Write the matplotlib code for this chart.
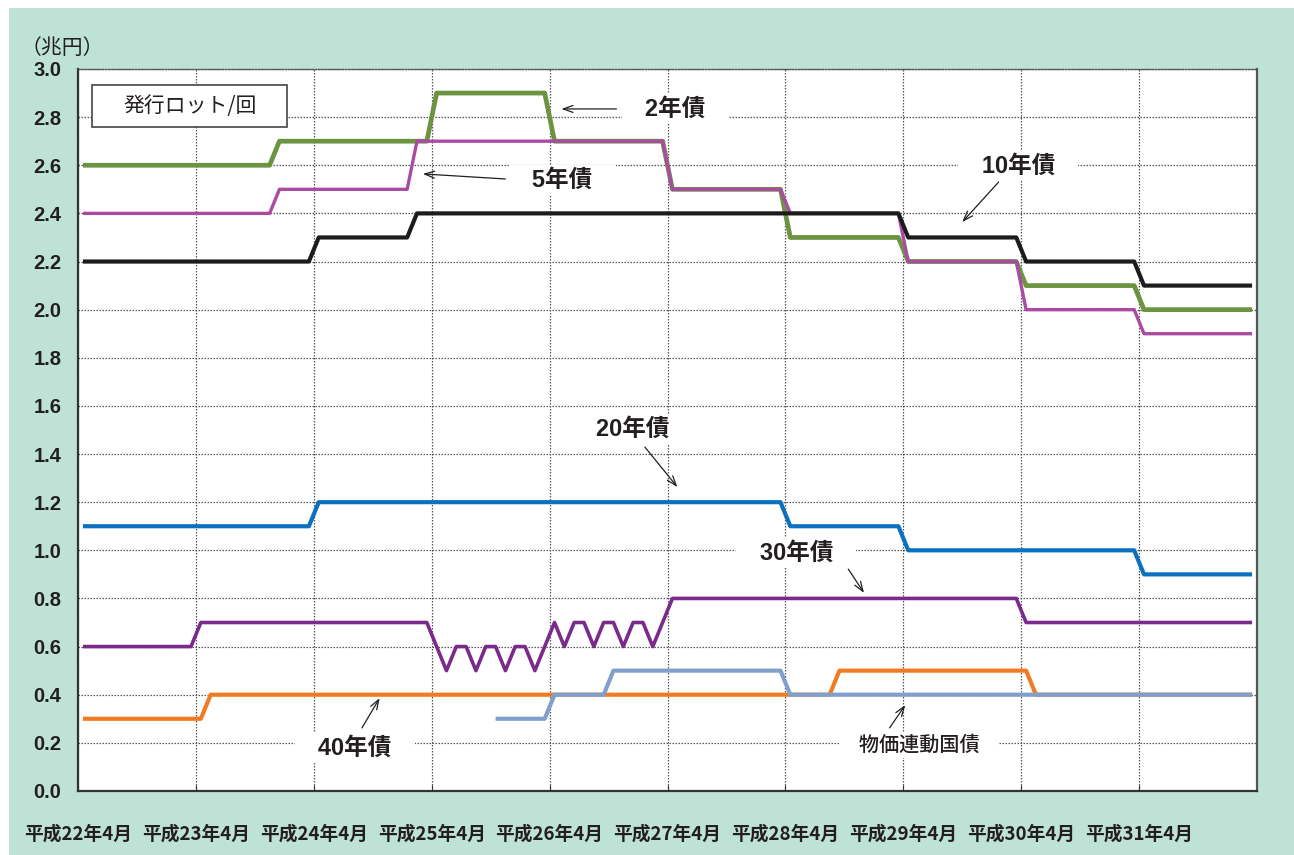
import matplotlib
matplotlib.use('Agg')
import matplotlib.pyplot as plt
from matplotlib.patches import Rectangle
import numpy as np

plt.rcParams['font.family'] = ['Liberation Sans', 'Noto Sans CJK JP', 'DejaVu Sans']

# 月次データ (平成22年4月 = 0), 1行 = 1年度 (4月〜3月)
two_year = [
    2.6, 2.6, 2.6, 2.6, 2.6, 2.6, 2.6, 2.6, 2.6, 2.6, 2.6, 2.6,
    2.6, 2.6, 2.6, 2.6, 2.6, 2.6, 2.6, 2.6, 2.7, 2.7, 2.7, 2.7,
    2.7, 2.7, 2.7, 2.7, 2.7, 2.7, 2.7, 2.7, 2.7, 2.7, 2.7, 2.7,
    2.9, 2.9, 2.9, 2.9, 2.9, 2.9, 2.9, 2.9, 2.9, 2.9, 2.9, 2.9,
    2.7, 2.7, 2.7, 2.7, 2.7, 2.7, 2.7, 2.7, 2.7, 2.7, 2.7, 2.7,
    2.5, 2.5, 2.5, 2.5, 2.5, 2.5, 2.5, 2.5, 2.5, 2.5, 2.5, 2.5,
    2.3, 2.3, 2.3, 2.3, 2.3, 2.3, 2.3, 2.3, 2.3, 2.3, 2.3, 2.3,
    2.2, 2.2, 2.2, 2.2, 2.2, 2.2, 2.2, 2.2, 2.2, 2.2, 2.2, 2.2,
    2.1, 2.1, 2.1, 2.1, 2.1, 2.1, 2.1, 2.1, 2.1, 2.1, 2.1, 2.1,
    2.0, 2.0, 2.0, 2.0, 2.0, 2.0, 2.0, 2.0, 2.0, 2.0, 2.0, 2.0,
]
five_year = [
    2.4, 2.4, 2.4, 2.4, 2.4, 2.4, 2.4, 2.4, 2.4, 2.4, 2.4, 2.4,
    2.4, 2.4, 2.4, 2.4, 2.4, 2.4, 2.4, 2.4, 2.5, 2.5, 2.5, 2.5,
    2.5, 2.5, 2.5, 2.5, 2.5, 2.5, 2.5, 2.5, 2.5, 2.5, 2.7, 2.7,
    2.7, 2.7, 2.7, 2.7, 2.7, 2.7, 2.7, 2.7, 2.7, 2.7, 2.7, 2.7,
    2.7, 2.7, 2.7, 2.7, 2.7, 2.7, 2.7, 2.7, 2.7, 2.7, 2.7, 2.7,
    2.5, 2.5, 2.5, 2.5, 2.5, 2.5, 2.5, 2.5, 2.5, 2.5, 2.5, 2.5,
    2.4, 2.4, 2.4, 2.4, 2.4, 2.4, 2.4, 2.4, 2.4, 2.4, 2.4, 2.4,
    2.2, 2.2, 2.2, 2.2, 2.2, 2.2, 2.2, 2.2, 2.2, 2.2, 2.2, 2.2,
    2.0, 2.0, 2.0, 2.0, 2.0, 2.0, 2.0, 2.0, 2.0, 2.0, 2.0, 2.0,
    1.9, 1.9, 1.9, 1.9, 1.9, 1.9, 1.9, 1.9, 1.9, 1.9, 1.9, 1.9,
]
ten_year = [
    2.2, 2.2, 2.2, 2.2, 2.2, 2.2, 2.2, 2.2, 2.2, 2.2, 2.2, 2.2,
    2.2, 2.2, 2.2, 2.2, 2.2, 2.2, 2.2, 2.2, 2.2, 2.2, 2.2, 2.2,
    2.3, 2.3, 2.3, 2.3, 2.3, 2.3, 2.3, 2.3, 2.3, 2.3, 2.4, 2.4,
    2.4, 2.4, 2.4, 2.4, 2.4, 2.4, 2.4, 2.4, 2.4, 2.4, 2.4, 2.4,
    2.4, 2.4, 2.4, 2.4, 2.4, 2.4, 2.4, 2.4, 2.4, 2.4, 2.4, 2.4,
    2.4, 2.4, 2.4, 2.4, 2.4, 2.4, 2.4, 2.4, 2.4, 2.4, 2.4, 2.4,
    2.4, 2.4, 2.4, 2.4, 2.4, 2.4, 2.4, 2.4, 2.4, 2.4, 2.4, 2.4,
    2.3, 2.3, 2.3, 2.3, 2.3, 2.3, 2.3, 2.3, 2.3, 2.3, 2.3, 2.3,
    2.2, 2.2, 2.2, 2.2, 2.2, 2.2, 2.2, 2.2, 2.2, 2.2, 2.2, 2.2,
    2.1, 2.1, 2.1, 2.1, 2.1, 2.1, 2.1, 2.1, 2.1, 2.1, 2.1, 2.1,
]
twenty_year = [
    1.1, 1.1, 1.1, 1.1, 1.1, 1.1, 1.1, 1.1, 1.1, 1.1, 1.1, 1.1,
    1.1, 1.1, 1.1, 1.1, 1.1, 1.1, 1.1, 1.1, 1.1, 1.1, 1.1, 1.1,
    1.2, 1.2, 1.2, 1.2, 1.2, 1.2, 1.2, 1.2, 1.2, 1.2, 1.2, 1.2,
    1.2, 1.2, 1.2, 1.2, 1.2, 1.2, 1.2, 1.2, 1.2, 1.2, 1.2, 1.2,
    1.2, 1.2, 1.2, 1.2, 1.2, 1.2, 1.2, 1.2, 1.2, 1.2, 1.2, 1.2,
    1.2, 1.2, 1.2, 1.2, 1.2, 1.2, 1.2, 1.2, 1.2, 1.2, 1.2, 1.2,
    1.1, 1.1, 1.1, 1.1, 1.1, 1.1, 1.1, 1.1, 1.1, 1.1, 1.1, 1.1,
    1.0, 1.0, 1.0, 1.0, 1.0, 1.0, 1.0, 1.0, 1.0, 1.0, 1.0, 1.0,
    1.0, 1.0, 1.0, 1.0, 1.0, 1.0, 1.0, 1.0, 1.0, 1.0, 1.0, 1.0,
    0.9, 0.9, 0.9, 0.9, 0.9, 0.9, 0.9, 0.9, 0.9, 0.9, 0.9, 0.9,
]
thirty_year = [
    0.6, 0.6, 0.6, 0.6, 0.6, 0.6, 0.6, 0.6, 0.6, 0.6, 0.6, 0.6,
    0.7, 0.7, 0.7, 0.7, 0.7, 0.7, 0.7, 0.7, 0.7, 0.7, 0.7, 0.7,
    0.7, 0.7, 0.7, 0.7, 0.7, 0.7, 0.7, 0.7, 0.7, 0.7, 0.7, 0.7,
    0.6, 0.5, 0.6, 0.6, 0.5, 0.6, 0.6, 0.5, 0.6, 0.6, 0.5, 0.6,
    0.7, 0.6, 0.7, 0.7, 0.6, 0.7, 0.7, 0.6, 0.7, 0.7, 0.6, 0.7,
    0.8, 0.8, 0.8, 0.8, 0.8, 0.8, 0.8, 0.8, 0.8, 0.8, 0.8, 0.8,
    0.8, 0.8, 0.8, 0.8, 0.8, 0.8, 0.8, 0.8, 0.8, 0.8, 0.8, 0.8,
    0.8, 0.8, 0.8, 0.8, 0.8, 0.8, 0.8, 0.8, 0.8, 0.8, 0.8, 0.8,
    0.7, 0.7, 0.7, 0.7, 0.7, 0.7, 0.7, 0.7, 0.7, 0.7, 0.7, 0.7,
    0.7, 0.7, 0.7, 0.7, 0.7, 0.7, 0.7, 0.7, 0.7, 0.7, 0.7, 0.7,
]
forty_year = [
    0.3, 0.3, 0.3, 0.3, 0.3, 0.3, 0.3, 0.3, 0.3, 0.3, 0.3, 0.3,
    0.3, 0.4, 0.4, 0.4, 0.4, 0.4, 0.4, 0.4, 0.4, 0.4, 0.4, 0.4,
    0.4, 0.4, 0.4, 0.4, 0.4, 0.4, 0.4, 0.4, 0.4, 0.4, 0.4, 0.4,
    0.4, 0.4, 0.4, 0.4, 0.4, 0.4, 0.4, 0.4, 0.4, 0.4, 0.4, 0.4,
    0.4, 0.4, 0.4, 0.4, 0.4, 0.4, 0.4, 0.4, 0.4, 0.4, 0.4, 0.4,
    0.4, 0.4, 0.4, 0.4, 0.4, 0.4, 0.4, 0.4, 0.4, 0.4, 0.4, 0.4,
    0.4, 0.4, 0.4, 0.4, 0.4, 0.5, 0.5, 0.5, 0.5, 0.5, 0.5, 0.5,
    0.5, 0.5, 0.5, 0.5, 0.5, 0.5, 0.5, 0.5, 0.5, 0.5, 0.5, 0.5,
    0.5, 0.4, 0.4, 0.4, 0.4, 0.4, 0.4, 0.4, 0.4, 0.4, 0.4, 0.4,
    0.4, 0.4, 0.4, 0.4, 0.4, 0.4, 0.4, 0.4, 0.4, 0.4, 0.4, 0.4,
]
nan = np.nan
inflation_indexed = [
    nan, nan, nan, nan, nan, nan, nan, nan, nan, nan, nan, nan,
    nan, nan, nan, nan, nan, nan, nan, nan, nan, nan, nan, nan,
    nan, nan, nan, nan, nan, nan, nan, nan, nan, nan, nan, nan,
    nan, nan, nan, nan, nan, nan, 0.3, 0.3, 0.3, 0.3, 0.3, 0.3,
    0.4, 0.4, 0.4, 0.4, 0.4, 0.4, 0.5, 0.5, 0.5, 0.5, 0.5, 0.5,
    0.5, 0.5, 0.5, 0.5, 0.5, 0.5, 0.5, 0.5, 0.5, 0.5, 0.5, 0.5,
    0.4, 0.4, 0.4, 0.4, 0.4, 0.4, 0.4, 0.4, 0.4, 0.4, 0.4, 0.4,
    0.4, 0.4, 0.4, 0.4, 0.4, 0.4, 0.4, 0.4, 0.4, 0.4, 0.4, 0.4,
    0.4, 0.4, 0.4, 0.4, 0.4, 0.4, 0.4, 0.4, 0.4, 0.4, 0.4, 0.4,
    0.4, 0.4, 0.4, 0.4, 0.4, 0.4, 0.4, 0.4, 0.4, 0.4, 0.4, 0.4,
]

year_labels = ['平成22年4月', '平成23年4月', '平成24年4月', '平成25年4月', '平成26年4月',
               '平成27年4月', '平成28年4月', '平成29年4月', '平成30年4月', '平成31年4月']

months = np.arange(len(two_year)) + 0.5

fig = plt.figure(figsize=(12.94, 8.55), dpi=100)
fig.patch.set_facecolor('white')
fig.patches.append(Rectangle((0.007, 0), 0.993, 0.9906, transform=fig.transFigure,
                             facecolor='#bfe2d6', edgecolor='none', zorder=-10))

ax = fig.add_axes([0.0603, 0.0749, 0.9111, 0.8444])
ax.set_facecolor('white')

series = [
    (two_year, '#6b9340', 3.4),
    (five_year, '#ab4aa3', 2.4),
    (ten_year, '#1c1c1c', 3.0),
    (twenty_year, '#0a70bf', 3.0),
    (thirty_year, '#7b2a8c', 2.6),
    (forty_year, '#f07b22', 3.0),
    (inflation_indexed, '#80a0cb', 3.0),
]
for i, (vals, col, lw) in enumerate(series):
    ax.plot(months, vals, color=col, linewidth=lw, solid_joinstyle='round',
            solid_capstyle='butt', zorder=3 + i * 0.1)

ax.set_xlim(0, 120)
ax.set_ylim(0, 3.0)
ax.set_yticks(np.arange(0, 3.01, 0.2))
ax.set_yticklabels(['%.1f' % v for v in np.arange(0, 3.01, 0.2)],
                   fontsize=14.5, fontweight='bold', color='#231f20',
                   family=['Liberation Sans Narrow', 'Liberation Sans'])
ax.set_xticks(np.arange(0, 120, 12))
ax.set_xticklabels(year_labels, fontsize=13.5, fontweight='bold', color='#231f20',
                   family=['Noto Sans CJK JP'])
ax.tick_params(axis='y', length=0, pad=12)
ax.tick_params(axis='x', length=4, direction='in', pad=24, color='#333333')

ax.grid(True, color='#555555', linestyle=(0, (1.2, 1.2)), linewidth=0.9)
ax.set_axisbelow(True)

for side in ['left', 'bottom']:
    ax.spines[side].set_color('#333333')
    ax.spines[side].set_linewidth(1.6)
ax.spines['right'].set_color('#555555')
ax.spines['right'].set_linewidth(1.6)
ax.spines['top'].set_color('#555555')
ax.spines['top'].set_linewidth(1.0)
ax.spines['top'].set_linestyle((0, (1.2, 1.2)))

# 発行ロット/回 の枠
ax.add_patch(Rectangle((0.0119, 0.9197), 0.1654, 0.0581, transform=ax.transAxes,
                       facecolor='white', edgecolor='#444444', linewidth=1.2, zorder=5))
ax.text(0.095, 0.9488, '発行ロット/回', transform=ax.transAxes, fontsize=15,
        ha='center', va='center', color='#231f20', zorder=6,
        family=['Noto Sans CJK JP'])

fig.text(0.016, 0.944, '（兆円）', fontsize=15, ha='left', va='center',
         color='#231f20', family=['Noto Sans CJK JP'])

label_font = ['Liberation Sans', 'Noto Sans CJK JP']
arrow = dict(arrowstyle='->,head_length=0.7,head_width=0.25', color='#231f20',
             lw=0.9, shrinkA=0, shrinkB=0)

labels = [
    # text, text pos, arrow tail, arrow tip, fontsize, weight
    ('2年債', (60.8, 2.834), (54.8, 2.834), (49.2, 2.834), 17, 'bold'),
    ('5年債', (49.3, 2.539), (43.5, 2.543), (35.1, 2.564), 17, 'bold'),
    ('10年債', (95.7, 2.597), (93.7, 2.530), (90.0, 2.364), 17, 'bold'),
    ('20年債', (56.5, 1.504), (57.7, 1.429), (61.0, 1.263), 17, 'bold'),
    ('30年債', (73.1, 0.989), (78.4, 0.922), (80.0, 0.823), 17, 'bold'),
    ('40年債', (28.2, 0.179), (28.9, 0.262), (30.7, 0.386), 17, 'bold'),
    ('物価連動国債', (85.6, 0.191), (82.6, 0.262), (84.2, 0.357), 14.5, 'medium'),
]
for txt, pos, tail, tip, fs, fw in labels:
    ax.text(pos[0], pos[1], '   ' + txt + '   ', fontsize=fs, fontweight=fw,
            ha='center', va='center', color='#231f20', family=label_font, zorder=4,
            bbox=dict(boxstyle='square,pad=0.15', facecolor='white', edgecolor='none'))
    ax.annotate('', xy=tip, xytext=tail, arrowprops=arrow, zorder=4)

fig.savefig('out.png', dpi=100)
